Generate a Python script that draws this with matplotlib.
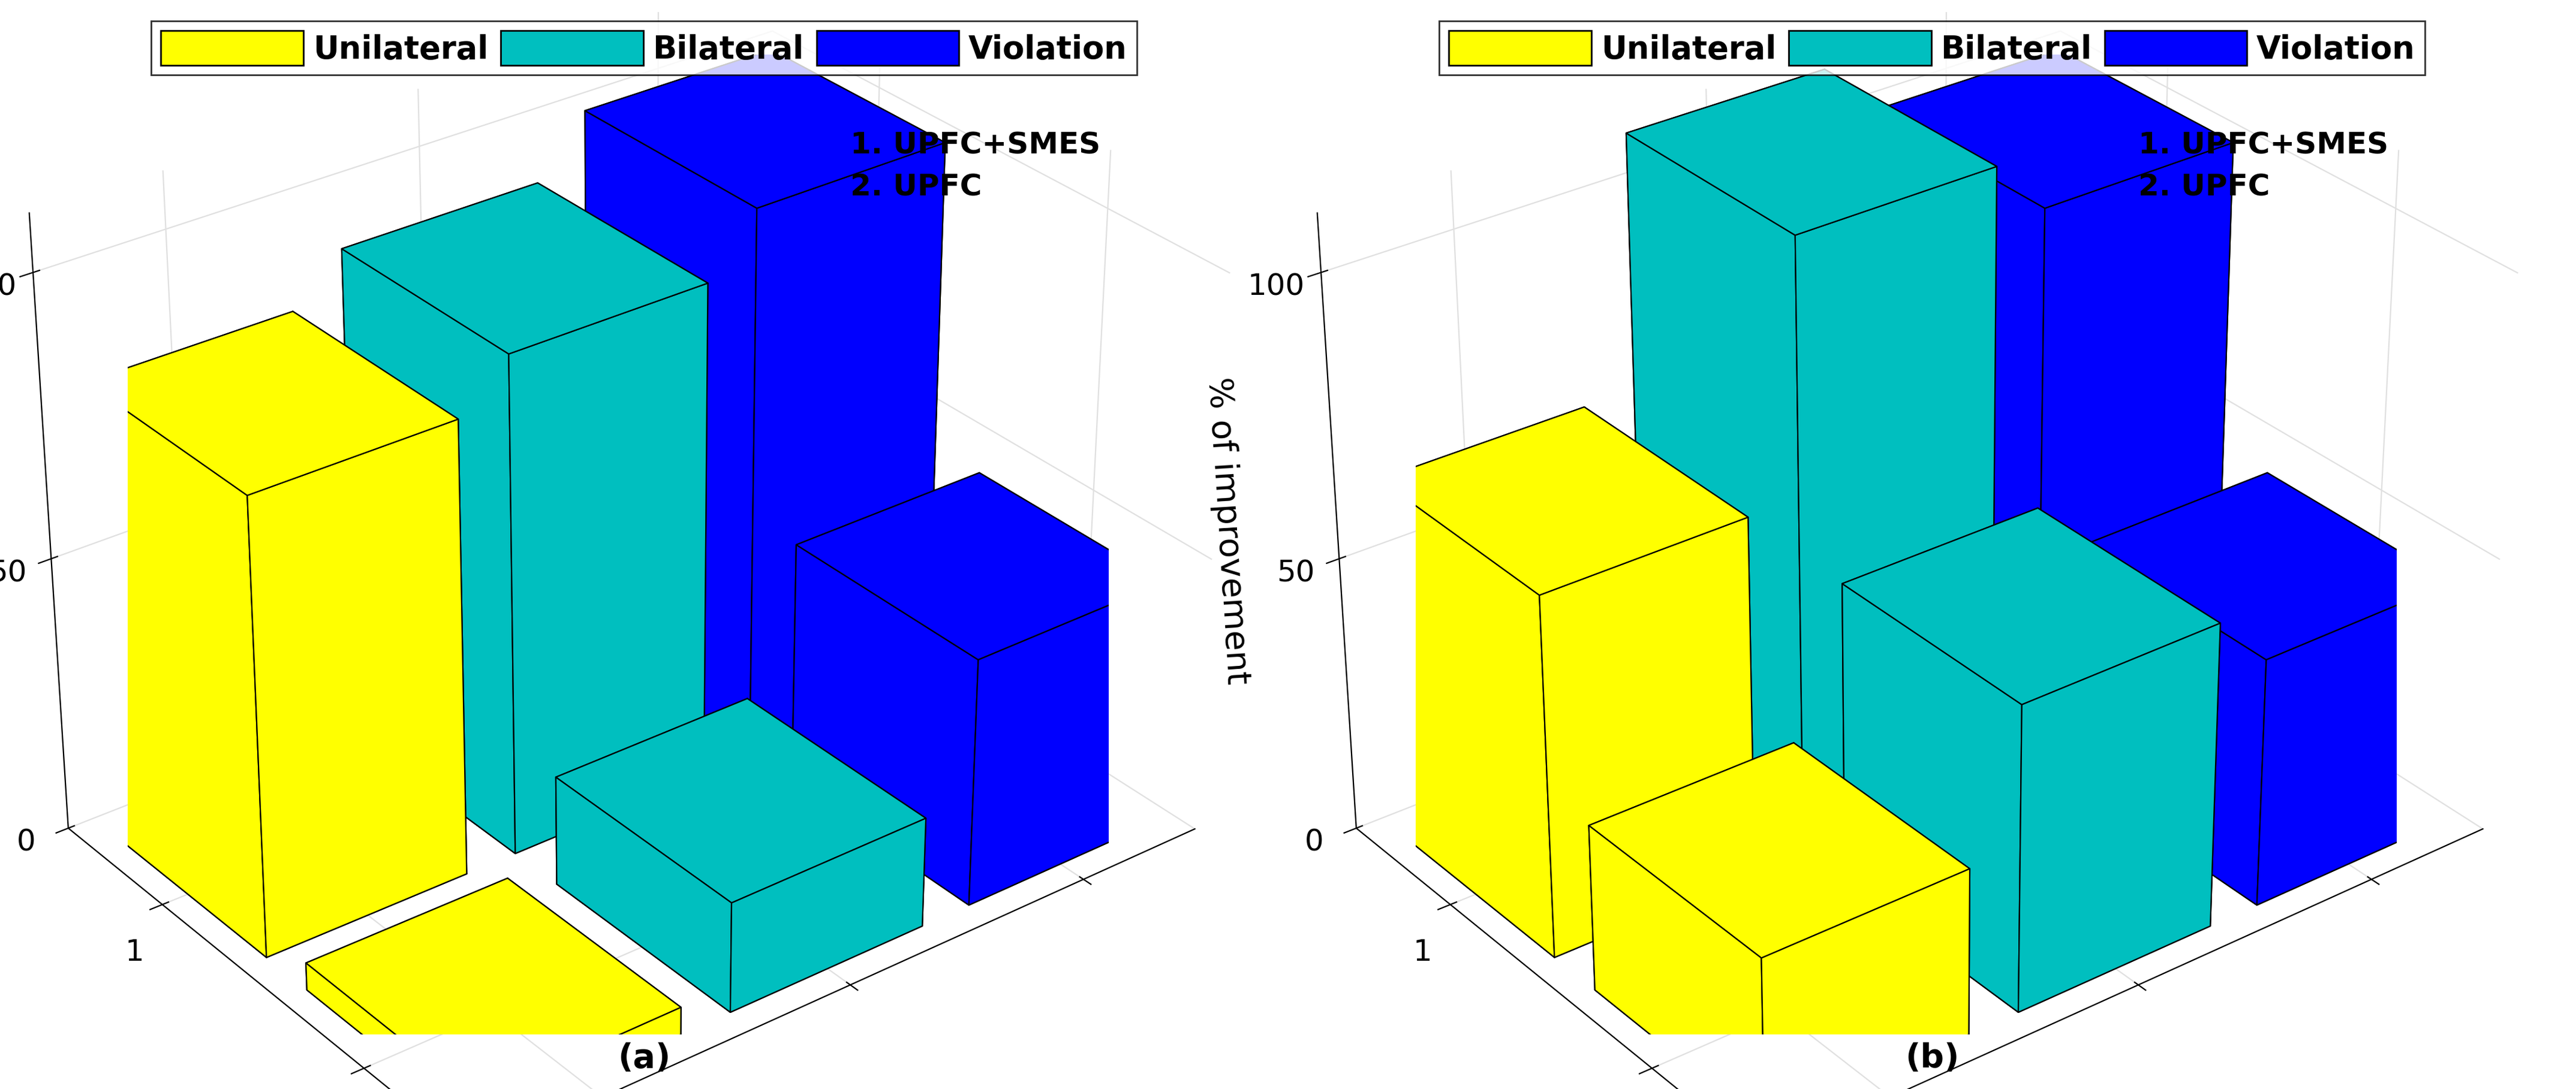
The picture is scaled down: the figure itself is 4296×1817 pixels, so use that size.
import numpy as np
import matplotlib.pyplot as plt
from matplotlib.patches import Patch

series = ["Unilateral", "Bilateral", "Violation"]
colors = ["#ffff00", "#00bfbf", "#0000ff"]
rows = ["1", "2"]
# values[row][series]
vals_a = [[82, 90, 100], [5, 20, 45]]
vals_b = [[65, 110, 100], [30, 55, 45]]
zlabels = ["% of Improvement", "% of improvement"]
captions = ["a", "b"]

fig = plt.figure(figsize=(21.48, 9.085), dpi=200)
for k, vals in enumerate([vals_a, vals_b]):
    ax = fig.add_axes([-0.02 + 0.5 * k, 0.05, 0.52, 0.9], projection="3d")
    w = 0.8
    for r in range(len(rows)):
        for s in range(len(series)):
            ax.bar3d(s + 1 - w / 2, -(r + 1) - w / 2, 0, w, w, vals[r][s],
                     color=colors[s], edgecolor="k", linewidth=0.8, shade=False)
    ax.view_init(elev=30, azim=-127.5)
    ax.set_xlim(0.5, 3.5)
    ax.set_ylim(-2.5, -0.5)
    ax.set_zlim(0, 110)
    ax.set_xticks([1, 2, 3])
    ax.set_xticklabels([])
    ax.set_yticks([-1, -2])
    ax.set_yticklabels(rows, fontsize=18)
    ax.set_zticks([0, 50, 100])
    ax.tick_params(axis="z", labelsize=18)
    ax.set_zlabel(zlabels[k], fontsize=20, labelpad=8)
    for a in (ax.xaxis, ax.yaxis, ax.zaxis):
        a.set_pane_color((1, 1, 1, 1))
        a._axinfo["grid"]["color"] = (0.88, 0.88, 0.88, 1)
    ax.set_box_aspect((1.3, 1, 1.0), zoom=1.35)
    handles = [Patch(facecolor=c, edgecolor="k", label=n) for c, n in zip(colors, series)]
    fig.legend(handles=handles, loc="upper center", ncol=3, bbox_to_anchor=(0.25 + 0.5 * k, 0.995),
               prop={"weight": "bold", "size": 19}, handlelength=4.5, handleheight=1.3,
               fancybox=False, edgecolor="k", columnspacing=0.4, handletextpad=0.3,
               borderpad=0.3)
    fig.text(0.33 + 0.5 * k, 0.88, "1. UPFC+SMES\n2. UPFC", fontsize=18, weight="bold",
             va="top", linespacing=1.6)
    fig.text(0.25 + 0.5 * k, 0.02, f"({captions[k]})", ha="center", fontsize=20,
             weight="bold")

fig.savefig("out.png", dpi=200)
